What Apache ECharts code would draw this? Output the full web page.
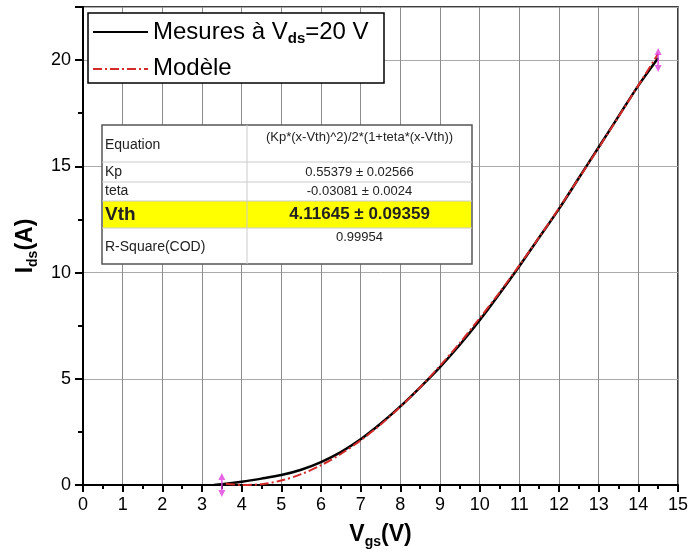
<!DOCTYPE html>
<html>
<head>
<meta charset="utf-8">
<script src="https://cdn.jsdelivr.net/npm/echarts@6/dist/echarts.min.js"></script>
<style>html,body{margin:0;padding:0;background:#fff}#c{width:691px;height:554px}</style>
</head>
<body>
<div id="c"></div>
<script>
var measX = [3.3, 3.5, 4, 4.5, 5, 5.5, 6, 6.5, 7, 7.5, 8, 8.5, 9, 9.5, 10, 10.5, 11, 11.5, 12, 12.5, 13, 13.5, 14, 14.5];
var measY = [0.0, 0.03, 0.15, 0.3, 0.47, 0.72, 1.08, 1.55, 2.15, 2.88, 3.7, 4.6, 5.55, 6.6, 7.75, 9.0, 10.3, 11.65, 13.0, 14.45, 15.9, 17.35, 18.8, 20.1];
var modelX = [3.6, 4, 4.5, 5, 5.5, 6, 6.5, 7, 7.5, 8, 8.5, 9, 9.5, 10, 10.5, 11, 11.5, 12, 12.5, 13, 13.5, 14, 14.5];
var modelY = [0.06, 0.0, 0.04, 0.21, 0.51, 0.93, 1.46, 2.1, 2.84, 3.68, 4.6, 5.61, 6.69, 7.85, 9.06, 10.34, 11.66, 13.03, 14.44, 15.87, 17.33, 18.81, 20.3];
var markerX = [3.5, 14.5];
var markerY = [0, 20];
var xTicks = [0,1,2,3,4,5,6,7,8,9,10,11,12,13,14,15];
var yTicks = [0,5,10,15,20];
var legendLabels = ['Mesures à V', 'ds', '=20 V', 'Modèle'];
var tableRows = [
  ['Equation', '(Kp*(x-Vth)^2)/2*(1+teta*(x-Vth))'],
  ['Kp', '0.55379 \u00b1 0.02566'],
  ['teta', '-0.03081 \u00b1 0.0024'],
  ['Vth', '4.11645 \u00b1 0.09359'],
  ['R-Square(COD)', '0.99954']
];

function zip(a, b) { return a.map(function (v, i) { return [v, b[i]]; }); }

var chart = echarts.init(document.getElementById('c'));
var FONT = 'Liberation Sans, Arial, sans-serif';
var arrowPath = 'path://M0,0 L4,7 L1,7 L1,17 L4,17 L0,24 L-4,17 L-1,17 L-1,7 L-4,7 Z';

var L = 102, R = 472, C = 247;
var tbl = [];
tbl.push({type:'rect', shape:{x:L, y:125, width:R-L, height:139}, style:{fill:'#fff', stroke:'#555', lineWidth:1.5}, z:100});
tbl.push({type:'rect', shape:{x:L+1, y:201, width:R-L-2, height:27}, style:{fill:'#ffff00'}, z:101});
tbl.push({type:'line', shape:{x1:C, y1:125, x2:C, y2:264}, style:{stroke:'#ccc', lineWidth:1}, z:102});
[162, 182, 201, 228].forEach(function (y) {
  tbl.push({type:'line', shape:{x1:L, y1:y, x2:R, y2:y}, style:{stroke:'#ccc', lineWidth:1}, z:102});
});
var rowY = [145, 172, 191, 215, 247];
var valY = [137, 172, 191, 214, 237];
tableRows.forEach(function (r, i) {
  var bold = i === 3;
  tbl.push({type:'text', x:L+3, y:rowY[i], style:{text:r[0], font:(bold?'bold 19px ':'14px ')+FONT, fill:'#222', textVerticalAlign:'middle'}, z:103});
  tbl.push({type:'text', x:(C+R)/2, y:valY[i], style:{text:r[1], font:(bold?'bold 17px ':'13px ')+FONT, fill:'#222', textAlign:'center', textVerticalAlign:'middle'}, z:103});
});

var leg = [
  {type:'rect', shape:{x:88, y:13, width:296, height:70}, style:{fill:'#fff', stroke:'#000', lineWidth:1.5}, z:100},
  {type:'line', shape:{x1:93, y1:32, x2:148, y2:32}, style:{stroke:'#000', lineWidth:2}, z:101},
  {type:'line', shape:{x1:93, y1:69, x2:148, y2:69}, style:{stroke:'#d42a2a', lineWidth:2, lineDash:[9,3,2,3]}, z:101},
  {type:'text', x:153, y:32, style:{
    text:'{a|' + legendLabels[0] + '}{s|' + legendLabels[1] + '}{a|' + legendLabels[2] + '}',
    rich:{a:{font:'24px ' + FONT, fill:'#000'}, s:{font:'bold 15px ' + FONT, fill:'#000', padding:[14,0,0,0]}},
    textVerticalAlign:'middle'}, z:101},
  {type:'text', x:153, y:68, style:{text:legendLabels[3], font:'24px ' + FONT, fill:'#000', textVerticalAlign:'middle'}, z:101}
];

chart.setOption({
  animation: false,
  grid: {left: 83, right: 12, top: 7, bottom: 63, show: true, borderColor: '#000', borderWidth: 1.5},
  xAxis: {
    type: 'value', min: 0, max: 15, interval: 1,
    name: '{a|V}{s|gs}{a|(V)}', nameLocation: 'middle', nameGap: 36,
    nameTextStyle: {rich: {a: {fontFamily: FONT, fontSize: 23, fontWeight: 'bold', color: '#000'},
                           s: {fontFamily: FONT, fontSize: 14, fontWeight: 'bold', color: '#000', padding: [14,0,0,0]}}},
    axisLine: {onZero: false, lineStyle: {color: '#000', width: 2}},
    axisTick: {length: 7, lineStyle: {color: '#000', width: 2}},
    minorTick: {show: true, splitNumber: 2, length: 4, lineStyle: {color: '#000', width: 2}},
    axisLabel: {fontFamily: FONT, fontSize: 18, color: '#000', margin: 11,
      formatter: function (v) { return xTicks.indexOf(v) >= 0 ? String(v) : ''; }},
    splitLine: {show: true, lineStyle: {color: '#8c8c8c', width: 1}}
  },
  yAxis: {
    type: 'value', min: 0, max: 22.5, interval: 5,
    name: '{a|I}{s|ds}{a|(A)}', nameLocation: 'middle', nameGap: 37, nameRotate: 90,
    nameTextStyle: {rich: {a: {fontFamily: FONT, fontSize: 23, fontWeight: 'bold', color: '#000'},
                           s: {fontFamily: FONT, fontSize: 14, fontWeight: 'bold', color: '#000', padding: [14,0,0,0]}}},
    axisLine: {onZero: false, lineStyle: {color: '#000', width: 2}},
    axisTick: {length: 8, lineStyle: {color: '#000', width: 2}},
    minorTick: {show: true, splitNumber: 2, length: 5, lineStyle: {color: '#000', width: 2}},
    axisLabel: {fontFamily: FONT, fontSize: 18, color: '#000', margin: 12,
      formatter: function (v) { return yTicks.indexOf(v) >= 0 ? String(v) : ''; }},
    splitLine: {show: true, lineStyle: {color: '#aaa', width: 1}}
  },
  series: [
    {type: 'line', name: 'Mesures', data: zip(measX, measY), smooth: 0.3, showSymbol: false,
     lineStyle: {color: '#000', width: 2.5}, z: 3},
    {type: 'line', name: 'Modèle', data: zip(modelX, modelY), smooth: 0.3, showSymbol: false,
     lineStyle: {color: '#d42a2a', width: 2, type: [9,3,2,3]}, z: 4},
    {type: 'scatter', data: zip(markerX, markerY), symbol: arrowPath, symbolSize: [7, 24],
     itemStyle: {color: '#e040e0'}, z: 5}
  ],
  graphic: leg.concat(tbl)
});
</script>
</body>
</html>
